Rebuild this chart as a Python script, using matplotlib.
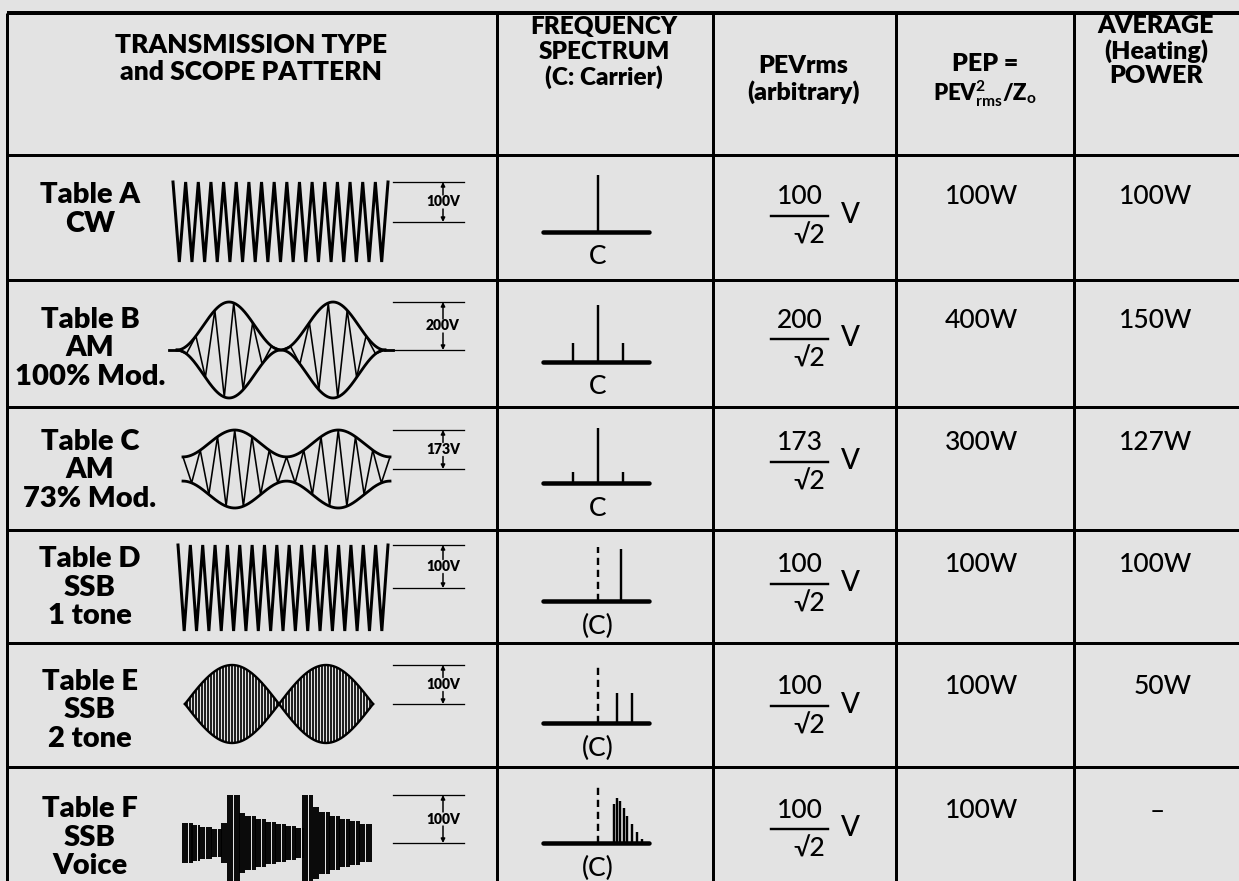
import numpy as np
import matplotlib.pyplot as plt

plt.rcParams['font.family'] = ['Lato', 'DejaVu Sans']
plt.rcParams['mathtext.fontset'] = 'custom'
plt.rcParams['mathtext.rm'] = 'Lato:bold'
plt.rcParams['mathtext.it'] = 'Lato:bold'
plt.rcParams['mathtext.bf'] = 'Lato:bold'

# ---- table content ----
header_lines = [
    ['TRANSMISSION TYPE', 'and SCOPE PATTERN'],
    ['FREQUENCY', 'SPECTRUM', '(C: Carrier)'],
    ['PEVrms', '(arbitrary)'],
    ['PEP =', r'PEV$^{2}_{\mathrm{rms}}$/Z$_{\mathrm{o}}$'],
    ['AVERAGE', '(Heating)', 'POWER'],
]
row_labels = [
    ['Table A', 'CW'],
    ['Table B', 'AM', '100% Mod.'],
    ['Table C', 'AM', '73% Mod.'],
    ['Table D', 'SSB', '1 tone'],
    ['Table E', 'SSB', '2 tone'],
    ['Table F', 'SSB', 'Voice'],
]
scope_kind = ['cw', 'am', 'am', 'cw', 'twotone', 'voice']
scope_volts = ['100V', '200V', '173V', '100V', '100V', '100V']
cw_cycles = [17, None, None, 17, None, None]
am_min_ratio = [None, 0.0, 0.31, None, None, None]   # envelope trough / crest, as drawn
am_strokes_per_lobe = [None, 11, 12, None, None, None]

# voice envelope: segment edges (fraction of sweep) and relative height
voice_edges = [0, 0.048, 0.09, 0.153, 0.206, 0.238, 0.302, 0.333, 0.386, 0.439, 0.492,
               0.545, 0.598, 0.635, 0.693, 0.725, 0.778, 0.831, 0.884, 0.937, 1.0]
voice_amp = [0.42, 0.38, 0.33, 0.29, 0.42, 1.0, 0.63, 0.56, 0.5, 0.44,
             0.4, 0.35, 0.31, 1.0, 0.75, 0.65, 0.56, 0.5, 0.46, 0.4]

carrier_suppressed = [False, False, False, True, True, True]
carrier_label = ['C', 'C', 'C', '(C)', '(C)', '(C)']
side_freq = [[], [-1.0, 1.0], [-1.0, 1.0], [0.92], [0.76, 1.36],
             [0.64, 0.76, 0.88, 1.04, 1.16, 1.36, 1.56, 1.76]]
side_amp = [[], [0.33, 0.33], [0.2, 0.2], [0.97], [0.53, 0.53],
            [0.68, 0.77, 0.72, 0.6, 0.46, 0.32, 0.19, 0.07]]

pev_num = ['100', '200', '173', '100', '100', '100']
pep = ['100W', '400W', '300W', '100W', '100W', '100W']
avg_power = ['100W', '150W', '127W', '100W', '50W', '\u2013']

# ---- layout (pixels) ----
W, H = 1239, 881
bg = '#e3e3e3'
col_x = [7, 497, 713, 896, 1074]
col_center = [251, 604, 803, 985, 1156]
header_y = [[45, 72], [27, 52, 77], [66, 92], [64, 94], [26, 51, 76]]
header_fs = [[19, 19], [17.5, 17.5, 17.5], [18, 18], [18, 16], [18, 18, 18]]
top_y = 13
row_top = [155, 280, 407, 530, 643, 767]

label_x = 90
label_y0 = [40, 40, 35, 29, 39, 42]
label_dy = 28.5
scope_span = [(173, 388), (177, 385), (183, 390), (178, 388), (185, 373), (183, 372)]
scope_yc = [67, 70, 62, 58, 61, 76]
scope_amp = [40, 48, 39, 43, 39, 48]
mark_x = (393, 464)
mark_tx = 443

spec_cx = 598
spec_base_x = (543, 649)
spec_unit = 25
spec_base = [77, 82, 76, 71, 80, 76]
spec_h = [57, 57, 55, 54, 56, 58]
value_y = [42, 40, 36, 35, 44, 43]

PX = 0.72  # points per pixel at dpi 100

fig = plt.figure(figsize=(W / 100, H / 100), dpi=100)
fig.patch.set_facecolor(bg)
ax = fig.add_axes([0, 0, 1, 1])
ax.set_xlim(0, W)
ax.set_ylim(H, 0)
ax.axis('off')

# grid
ax.plot([col_x[0], W], [top_y, top_y], color='k', lw=4 * PX, solid_capstyle='butt')
for x in col_x:
    ax.plot([x, x], [top_y, H], color='k', lw=3 * PX, solid_capstyle='butt')
for y in row_top:
    ax.plot([col_x[0], W], [y, y], color='k', lw=3 * PX, solid_capstyle='butt')

# header
for c, lines in enumerate(header_lines):
    for k, s in enumerate(lines):
        ax.text(col_center[c], header_y[c][k], s, ha='center', va='center',
                fontsize=header_fs[c][k], fontweight='heavy')


def scale_marker(y_top, y_bot, label):
    ax.plot(mark_x, [y_top, y_top], color='k', lw=1.3 * PX)
    ax.plot(mark_x, [y_bot, y_bot], color='k', lw=1.3 * PX)
    ym = (y_top + y_bot) / 2
    ax.text(mark_tx, ym, label, ha='center', va='center', fontsize=10, fontweight='heavy')
    for yt, yl in [(ym - 7, y_top), (ym + 7, y_bot)]:
        ax.annotate('', xy=(mark_tx, yl), xytext=(mark_tx, yt),
                    arrowprops=dict(arrowstyle='-|>', color='k', lw=1.5 * PX,
                                    mutation_scale=6, shrinkA=0, shrinkB=0))


for r in range(6):
    top = row_top[r]
    # row label
    for k, s in enumerate(row_labels[r]):
        ax.text(label_x, top + label_y0[r] + k * label_dy, s, ha='center', va='center',
                fontsize=21, fontweight='heavy')

    # scope pattern
    x0, x1 = scope_span[r]
    yc = top + scope_yc[r]
    a = scope_amp[r]
    kind = scope_kind[r]
    if kind == 'cw':
        n = 2 * cw_cycles[r] + 1
        xv = np.linspace(x0, x1, n)
        sign = np.where(np.arange(n) % 2 == 0, -1, 1)
        ax.plot(xv, yc + a * sign, color='k', lw=3 * PX, solid_joinstyle='miter')
    elif kind == 'am':
        lobes = 2
        period = (x1 - x0) / lobes
        lo = am_min_ratio[r]
        xe = np.linspace(x0, x1, 400)
        env = a * (lo + (1 - lo) * (1 - np.cos(2 * np.pi * (xe - x0) / period)) / 2)
        ax.plot(xe, yc - env, color='k', lw=2.8 * PX)
        ax.plot(xe, yc + env, color='k', lw=2.8 * PX)
        n = lobes * am_strokes_per_lobe[r] + 1
        xv = np.linspace(x0, x1, n)
        ev = a * (lo + (1 - lo) * (1 - np.cos(2 * np.pi * (xv - x0) / period)) / 2)
        sign = np.where(np.arange(n) % 2 == 0, -1, 1)
        ax.plot(xv, yc + ev * sign, color='k', lw=1.6 * PX)
        if lo == 0:
            ax.plot([x0 - 8, x0], [yc, yc], color='k', lw=2.8 * PX)
            ax.plot([x1, x1 + 8], [yc, yc], color='k', lw=2.8 * PX)
    elif kind == 'twotone':
        half = (x1 - x0) / 2
        xe = np.linspace(x0, x1, 400)
        env = a * np.abs(np.sin(np.pi * (xe - x0) / half))
        xv = np.arange(x0 + 1.5, x1, 3.0)
        ev = a * np.abs(np.sin(np.pi * (xv - x0) / half))
        ax.vlines(xv, yc - ev, yc + ev, color='k', lw=1.7 * PX)
        ax.plot(xe, yc - env, color='k', lw=2.4 * PX)
        ax.plot(xe, yc + env, color='k', lw=2.4 * PX)
    elif kind == 'voice':
        span = x1 - x0
        for e0, e1, v in zip(voice_edges[:-1], voice_edges[1:], voice_amp):
            xs = np.arange(x0 + e0 * span, x0 + e1 * span, 2.2)
            ax.vlines(xs, yc - v * a, yc + v * a, color='k', lw=1.9 * PX)
    scale_marker(yc - a, yc, scope_volts[r])

    # frequency spectrum
    by = top + spec_base[r]
    h = spec_h[r]
    ax.plot(spec_base_x, [by, by], color='k', lw=4.5 * PX, solid_capstyle='round')
    ax.plot([spec_cx, spec_cx], [by, by - h], color='k', lw=2.4 * PX,
            ls=(0, (3, 2)) if carrier_suppressed[r] else '-', solid_capstyle='butt')
    for f, amp in zip(side_freq[r], side_amp[r]):
        xs = spec_cx + f * spec_unit
        ax.plot([xs, xs], [by, by - amp * h], color='k', lw=2.4 * PX, solid_capstyle='butt')
    ax.text(spec_cx, by + 25, carrier_label[r], ha='center', va='center', fontsize=19,
            fontweight='medium')

    # PEV rms fraction
    vy = top + value_y[r]
    ax.text(800, vy, pev_num[r], ha='center', va='center', fontsize=19, fontweight='medium')
    ax.plot([771, 828], [vy + 19, vy + 19], color='k', lw=2.4 * PX)
    ax.text(809, vy + 39, '\u221a2', ha='center', va='center', fontsize=19, fontweight='medium')
    ax.text(850, vy + 18, 'V', ha='center', va='center', fontsize=20, fontweight='medium')

    # PEP and average power
    ax.text(1018, vy, pep[r], ha='right', va='center', fontsize=19, fontweight='medium')
    if avg_power[r] == '\u2013':
        ax.text(1157, vy + 2, avg_power[r], ha='center', va='center', fontsize=19)
    else:
        ax.text(1192, vy, avg_power[r], ha='right', va='center', fontsize=19,
                fontweight='medium')

fig.savefig('out.png', dpi=100, facecolor=bg)
